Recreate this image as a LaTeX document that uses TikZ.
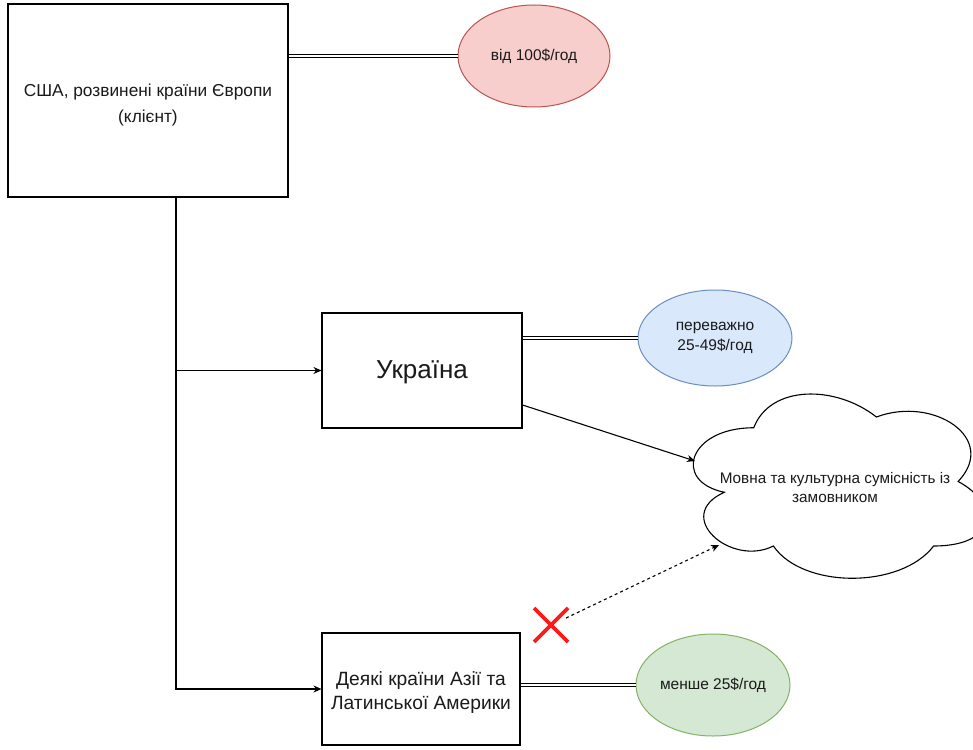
\documentclass[tikz,border=0pt]{standalone}
\usepackage{fontspec}
\setmainfont{Liberation Sans}
\usetikzlibrary{arrows.meta,shapes.geometric,calc}
\definecolor{redfill}{HTML}{F8CECC}
\definecolor{redline}{HTML}{B85450}
\definecolor{bluefill}{HTML}{DAE8FC}
\definecolor{blueline}{HTML}{6C8EBF}
\definecolor{greenfill}{HTML}{D5E8D4}
\definecolor{greenline}{HTML}{82B366}
\definecolor{xred}{HTML}{FF1A1A}
\definecolor{txt}{HTML}{1A1A1A}
\tikzset{
  box/.style={draw=black, line width=1.1pt, rectangle, inner sep=0pt},
  boxtext/.style={align=center, inner sep=0pt, text=txt},
  oval/.style={ellipse, line width=1pt, align=center, inner sep=0pt, text=txt, font=\fontsize{15.5}{20}\selectfont},
  link/.style={draw=black, double=white, double distance=2.4pt, line width=0.8pt},
  arr/.style={draw=black, line width=1.1pt, -{Stealth[length=8pt,width=7pt]}},
  dotarr/.style={draw=black, line width=1.1pt, dash pattern=on 3pt off 3pt, -{Stealth[length=8pt,width=7pt]}},
  cloudline/.style={draw=black, line width=1.1pt, fill=white},
  xline/.style={draw=xred, line width=3.6pt},
}
\begin{document}
\begin{tikzpicture}[x=1pt,y=-1pt]
\useasboundingbox (0,0) rectangle (973,749);
\fill[white] (0,0) rectangle (973,749);

% boxes
\node[box, minimum width=280pt, minimum height=193pt] (usa) at (148,100.5) {};
\node[boxtext, font=\fontsize{17.3}{26}\selectfont] (usatext) at (148,105) {США, розвинені країни Європи\\(клієнт)};
\node[box, minimum width=200pt, minimum height=115pt] (ukr) at (422,370.5) {};
\node[boxtext, font=\fontsize{26}{30}\selectfont] (ukrtext) at (422,372) {Україна};
\node[box, minimum width=198pt, minimum height=112pt] (asia) at (421,689) {};
\node[boxtext, font=\fontsize{19.2}{24}\selectfont] (asiatext) at (421,693) {Деякі країни Азії та\\Латинської Америки};

% ellipses
\node[oval, fill=redfill, draw=redline, minimum width=152pt, minimum height=102pt] (e1) at (534,56) {від 100\$/год};
\node[oval, fill=bluefill, draw=blueline, minimum width=154pt, minimum height=96pt] (e2) at (715,338) {переважно\\25-49\$/год};
\node[oval, fill=greenfill, draw=greenline, minimum width=154pt, minimum height=102pt] (e3) at (713,685) {менше 25\$/год};

% cloud
\path[cloudline] (753.75,427.75)
  .. controls (688.35,427.75) and (672,481.5) .. (724.32,492.25)
  .. controls (672,515.9) and (730.86,567.5) .. (773.37,546)
  .. controls (802.8,589) and (900.9,589) .. (933.6,546)
  .. controls (999,546) and (999,503) .. (958.1,481.5)
  .. controls (999,438.5) and (933.6,395.5) .. (876.4,417)
  .. controls (835.5,384.75) and (770.1,384.75) .. (753.75,427.75) -- cycle;
\node[boxtext, font=\fontsize{15.3}{19}\selectfont] (cloud) at (835,488) {Мовна та культурна сумісність із\\замовником};
\coordinate (cloudA) at (695,461);
\coordinate (cloudB) at (719,545);

% links
\path[link] (e1.west -| usa.east) -- (e1.west);
\path[link] (e2.west -| ukr.east) -- (e2.west);
\path[link] (e3.west -| asia.east) -- (e3.west);

% trunk arrows
\coordinate (trunk) at ([xshift=28pt]usa.south);
\draw[arr] (trunk) |- (ukr.west);
\draw[arr] (trunk) |- (asia.west);

% ukraine to cloud
\draw[arr] ([yshift=-34.5pt]ukr.east) -- (cloudA);

% red X and dotted arrow
\coordinate (xmark) at (551,625);
\draw[dotarr] ([xshift=15pt,yshift=7pt]xmark) -- (cloudB);
\draw[xline] ([xshift=-17pt,yshift=17pt]xmark) -- ([xshift=17pt,yshift=-17pt]xmark);
\draw[xline] ([xshift=-17pt,yshift=-17pt]xmark) -- ([xshift=17pt,yshift=17pt]xmark);
\end{tikzpicture}
\end{document}
